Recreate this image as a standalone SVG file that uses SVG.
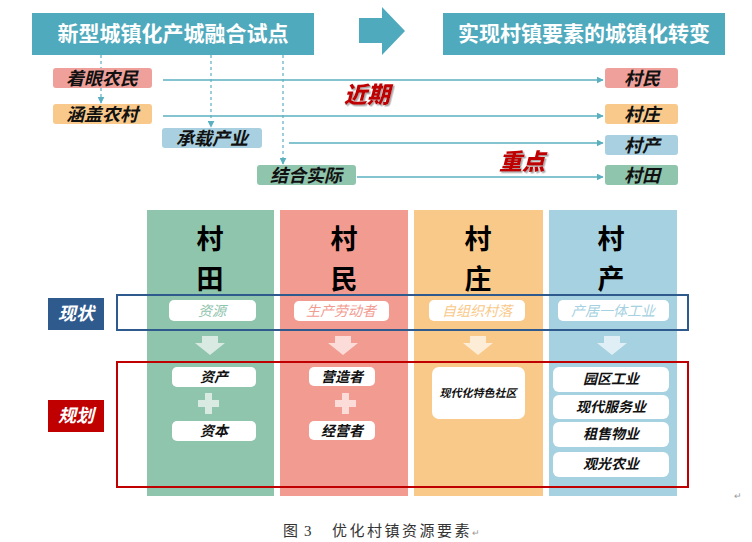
<svg xmlns="http://www.w3.org/2000/svg" width="752" height="542" viewBox="0 0 752 542">
<defs>
<style>
.cjk{font-family:"Noto Sans CJK SC","Noto Sans",sans-serif;}
.title{font-size:21px;font-weight:bold;fill:#fff;}
.lbl{font-size:18px;font-weight:bold;font-style:italic;fill:#111;}
.hdr{font-size:27px;font-weight:bold;fill:#000;}
.cur{font-size:14px;font-style:italic;}
.plan{font-size:14px;font-weight:bold;font-style:italic;fill:#111;}
.red{font-size:23px;font-weight:900;font-style:italic;fill:#c00000;}
.wbox{fill:#fff;}
.conn{stroke:#5bb0c0;stroke-width:1.5;fill:none;}
.dash{stroke:#5bb0c0;stroke-width:1.2;fill:none;stroke-dasharray:3,3;}
.soft{fill:#fff;opacity:0.65;}
</style>
<marker id="ah" viewBox="0 0 10 10" refX="9" refY="5" markerWidth="7" markerHeight="7" markerUnits="userSpaceOnUse" orient="auto">
<path d="M0,0 L10,5 L0,10 z" fill="#5bb0c0"/>
</marker>
<filter id="sh" x="-10%" y="-10%" width="130%" height="130%">
<feDropShadow dx="1.5" dy="1.5" stdDeviation="0.6" flood-color="#888" flood-opacity="0.7"/>
</filter>
</defs>
<rect width="752" height="542" fill="#fff"/>

<g id="title-left">
<rect x="32" y="13" width="282" height="42" fill="#4faabd"/>
<text class="cjk title" x="173" y="41" text-anchor="middle">新型城镇化产城融合试点</text>
</g>
<g id="big-arrow">
<path d="M359,18 L382,18 L382,7 L405,31 L382,55 L382,43 L359,43 z" fill="#4faabd"/>
</g>
<g id="title-right">
<rect x="443" y="13" width="282" height="42" fill="#4faabd"/>
<text class="cjk title" x="584" y="41" text-anchor="middle">实现村镇要素的城镇化转变</text>
</g>

<g id="connectors">
<path class="dash" d="M101,55 L101,68"/>
<path class="dash" d="M101,88 L101,103" marker-end="url(#ah)"/>
<path class="dash" d="M211,55 L211,127" marker-end="url(#ah)"/>
<path class="dash" d="M283,55 L283,164" marker-end="url(#ah)"/>
<path class="conn" d="M163,80 L603,80" marker-end="url(#ah)"/>
<path class="conn" d="M163,116 L603,116" marker-end="url(#ah)"/>
<path class="conn" d="M289,143 L603,143" marker-end="url(#ah)"/>
<path class="conn" d="M357,177 L603,177" marker-end="url(#ah)"/>
</g>

<g id="n-zhuoyan">
<rect x="53" y="68" width="99" height="20" rx="3" fill="#f0a09a"/>
<text class="cjk lbl" x="102" y="85" text-anchor="middle">着眼农民</text>
</g>
<g id="n-hangai">
<rect x="53" y="104" width="99" height="20" rx="3" fill="#f8c98a"/>
<text class="cjk lbl" x="102" y="121" text-anchor="middle">涵盖农村</text>
</g>
<g id="n-chengzai">
<rect x="162" y="128" width="100" height="20" rx="3" fill="#a8d0e0"/>
<text class="cjk lbl" x="212" y="145" text-anchor="middle">承载产业</text>
</g>
<g id="n-jiehe">
<rect x="257" y="165" width="99" height="20" rx="3" fill="#8fc4ad"/>
<text class="cjk lbl" x="306" y="182" text-anchor="middle">结合实际</text>
</g>

<g id="n-cunmin">
<rect x="605" y="68" width="73" height="20" rx="3" fill="#f0a09a"/>
<text class="cjk lbl" x="642" y="85" text-anchor="middle">村民</text>
</g>
<g id="n-cunzhuang">
<rect x="605" y="104" width="73" height="20" rx="3" fill="#f8c98a"/>
<text class="cjk lbl" x="642" y="121" text-anchor="middle">村庄</text>
</g>
<g id="n-cunchan">
<rect x="605" y="135" width="73" height="20" rx="3" fill="#a8d0e0"/>
<text class="cjk lbl" x="642" y="152" text-anchor="middle">村产</text>
</g>
<g id="n-cuntian">
<rect x="605" y="165" width="73" height="20" rx="3" fill="#8fc4ad"/>
<text class="cjk lbl" x="642" y="182" text-anchor="middle">村田</text>
</g>

<g id="t-jinqi" filter="url(#sh)">
<text class="cjk red" x="367" y="103" text-anchor="middle">近期</text>
</g>
<g id="t-zhongdian" filter="url(#sh)">
<text class="cjk red" x="522" y="170" text-anchor="middle">重点</text>
</g>

<g id="col-cuntian">
<rect x="147" y="210" width="127" height="286" fill="#8fc4ad"/>
<text class="cjk hdr" x="210" y="249" text-anchor="middle">村</text>
<text class="cjk hdr" x="210" y="289" text-anchor="middle">田</text>
<rect class="wbox" x="169" y="300" width="87" height="21" rx="5"/>
<text class="cjk cur" x="212" y="316" text-anchor="middle" fill="#8fc4ad">资源</text>
<path class="soft" d="M202,336 L218,336 L218,343 L225,343 L210,355 L195,343 L202,343 z"/>
<rect class="wbox" x="172" y="367" width="84" height="20" rx="5"/>
<text class="cjk plan" x="214" y="382" text-anchor="middle">资产</text>
<path class="soft" d="M205,393 L212,393 L212,400 L219,400 L219,407 L212,407 L212,414 L205,414 L205,407 L198,407 L198,400 L205,400 z"/>
<rect class="wbox" x="172" y="421" width="84" height="20" rx="5"/>
<text class="cjk plan" x="214" y="436" text-anchor="middle">资本</text>
</g>

<g id="col-cunmin">
<rect x="280" y="210" width="128" height="286" fill="#f29b91"/>
<text class="cjk hdr" x="344" y="249" text-anchor="middle">村</text>
<text class="cjk hdr" x="344" y="289" text-anchor="middle">民</text>
<rect class="wbox" x="294" y="301" width="95" height="20" rx="5"/>
<text class="cjk cur" x="341" y="316" text-anchor="middle" fill="#f29b91">生产劳动者</text>
<path class="soft" d="M335,336 L351,336 L351,343 L358,343 L343,355 L328,343 L335,343 z"/>
<rect class="wbox" x="309" y="367" width="66" height="19" rx="5"/>
<text class="cjk plan" x="342" y="382" text-anchor="middle">营造者</text>
<path class="soft" d="M342,393 L349,393 L349,400 L356,400 L356,407 L349,407 L349,414 L342,414 L342,407 L335,407 L335,400 L342,400 z"/>
<rect class="wbox" x="309" y="421" width="66" height="19" rx="5"/>
<text class="cjk plan" x="342" y="436" text-anchor="middle">经营者</text>
</g>

<g id="col-cunzhuang">
<rect x="414" y="210" width="129" height="286" fill="#f9c98a"/>
<text class="cjk hdr" x="478" y="249" text-anchor="middle">村</text>
<text class="cjk hdr" x="478" y="289" text-anchor="middle">庄</text>
<rect class="wbox" x="429" y="300" width="96" height="21" rx="5"/>
<text class="cjk cur" x="477" y="316" text-anchor="middle" fill="#f9c98a">自组织村落</text>
<path class="soft" d="M470,336 L486,336 L486,343 L493,343 L478,355 L463,343 L470,343 z"/>
<rect class="wbox" x="432" y="367" width="93" height="52" rx="7"/>
<text class="cjk plan" x="478" y="397" text-anchor="middle" style="font-size:11px">现代化特色社区</text>
</g>

<g id="col-cunchan">
<rect x="549" y="210" width="128" height="286" fill="#a5d1e1"/>
<text class="cjk hdr" x="611" y="249" text-anchor="middle">村</text>
<text class="cjk hdr" x="611" y="289" text-anchor="middle">产</text>
<rect class="wbox" x="558" y="300" width="111" height="21" rx="5"/>
<text class="cjk cur" x="613" y="316" text-anchor="middle" fill="#a5d1e1">产居一体工业</text>
<path class="soft" d="M604,336 L620,336 L620,343 L627,343 L612,355 L597,343 L604,343 z"/>
<rect class="wbox" x="553" y="367" width="116" height="25" rx="6"/>
<text class="cjk plan" x="611" y="384" text-anchor="middle">园区工业</text>
<rect class="wbox" x="553" y="395" width="116" height="24" rx="6"/>
<text class="cjk plan" x="611" y="412" text-anchor="middle">现代服务业</text>
<rect class="wbox" x="553" y="422" width="116" height="25" rx="6"/>
<text class="cjk plan" x="611" y="439" text-anchor="middle">租售物业</text>
<rect class="wbox" x="553" y="452" width="116" height="25" rx="6"/>
<text class="cjk plan" x="611" y="469" text-anchor="middle">观光农业</text>
</g>

<g id="row-xianzhuang">
<rect x="117" y="295" width="571" height="35" fill="none" stroke="#2e5a8e" stroke-width="2"/>
<rect x="48" y="298" width="56" height="32" fill="#2e5a8e"/>
<text class="cjk" x="76" y="320" text-anchor="middle" style="font-size:18px;font-weight:bold;font-style:italic;fill:#fff">现状</text>
</g>
<g id="row-guihua">
<rect x="117" y="362" width="571" height="125" fill="none" stroke="#c00000" stroke-width="2"/>
<rect x="48" y="400" width="56" height="32" fill="#c00000"/>
<text class="cjk" x="76" y="422" text-anchor="middle" style="font-size:18px;font-weight:bold;font-style:italic;fill:#fff">规划</text>
</g>

<g id="caption">
<text y="536" style="font-family:'Liberation Serif','Noto Sans CJK SC',serif;font-size:15px;fill:#333"><tspan x="283">图</tspan><tspan x="304">3</tspan><tspan x="332" letter-spacing="2.5">优化村镇资源要素</tspan><tspan style="font-size:9px;fill:#999">↵</tspan></text>
<text x="734" y="499" style="font-family:'Liberation Sans',sans-serif;font-size:9px;fill:#999">↵</text>
</g>
</svg>
